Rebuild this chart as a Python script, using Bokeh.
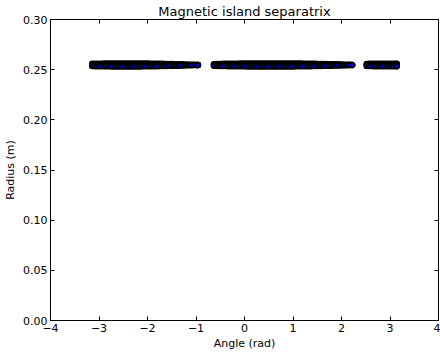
from bokeh.plotting import figure
from bokeh.models import LinearAxis, FixedTicker, ColumnDataSource
from bokeh.embed import file_html
from bokeh.resources import INLINE

# Separatrix points: angle (rad), upper / lower edge radius (m)
angle_seg1 = [-3.14, -3.09, -3.04, -2.99, -2.94, -2.89, -2.84, -2.79, -2.74, -2.69, -2.64, -2.59,
              -2.54, -2.49, -2.44, -2.39, -2.34, -2.29, -2.24, -2.19, -2.14, -2.09, -2.04, -1.99,
              -1.94, -1.89, -1.84, -1.79, -1.74, -1.69, -1.64, -1.59, -1.54, -1.49, -1.44, -1.39,
              -1.34, -1.29, -1.24, -1.19, -1.14, -1.09, -1.04, -0.99, -0.96]
r_up_seg1 = [0.2558, 0.2559, 0.2559, 0.2560, 0.2560, 0.2561, 0.2561, 0.2561, 0.2562, 0.2562, 0.2562, 0.2562,
             0.2562, 0.2562, 0.2562, 0.2562, 0.2562, 0.2562, 0.2562, 0.2562, 0.2562, 0.2561, 0.2561, 0.2561,
             0.2560, 0.2560, 0.2559, 0.2559, 0.2558, 0.2558, 0.2557, 0.2557, 0.2556, 0.2556, 0.2555, 0.2555,
             0.2554, 0.2553, 0.2552, 0.2551, 0.2550, 0.2549, 0.2548, 0.2547, 0.2547]
r_lo_seg1 = [0.2536, 0.2535, 0.2535, 0.2534, 0.2534, 0.2533, 0.2533, 0.2533, 0.2532, 0.2532, 0.2532, 0.2532,
             0.2532, 0.2532, 0.2532, 0.2532, 0.2532, 0.2532, 0.2532, 0.2532, 0.2532, 0.2533, 0.2533, 0.2533,
             0.2534, 0.2534, 0.2535, 0.2535, 0.2536, 0.2536, 0.2537, 0.2537, 0.2538, 0.2538, 0.2539, 0.2539,
             0.2540, 0.2541, 0.2542, 0.2543, 0.2544, 0.2545, 0.2546, 0.2547, 0.2547]

angle_seg2 = [-0.63, -0.58, -0.53, -0.48, -0.43, -0.38, -0.33, -0.28, -0.23, -0.18, -0.13,
              -0.08, -0.03, 0.02, 0.07, 0.12, 0.17, 0.22, 0.27, 0.32, 0.37, 0.42, 0.47,
              0.52, 0.57, 0.62, 0.67, 0.72, 0.77, 0.82, 0.87, 0.92, 0.97, 1.02, 1.07,
              1.12, 1.17, 1.22, 1.27, 1.32, 1.37, 1.42, 1.47, 1.52, 1.57, 1.62, 1.67,
              1.72, 1.77, 1.82, 1.87, 1.92, 1.97, 2.02, 2.07, 2.12, 2.17, 2.22]
r_up_seg2 = [0.2555, 0.2556, 0.2557, 0.2557, 0.2558, 0.2558, 0.2559, 0.2559, 0.2560, 0.2560, 0.2560,
             0.2561, 0.2561, 0.2561, 0.2562, 0.2562, 0.2562, 0.2562, 0.2562, 0.2562, 0.2562, 0.2562, 0.2562,
             0.2562, 0.2562, 0.2562, 0.2562, 0.2562, 0.2562, 0.2562, 0.2562, 0.2562, 0.2562, 0.2562, 0.2561,
             0.2561, 0.2561, 0.2560, 0.2560, 0.2559, 0.2559, 0.2558, 0.2558, 0.2557, 0.2557, 0.2556, 0.2556,
             0.2555, 0.2555, 0.2554, 0.2553, 0.2553, 0.2552, 0.2551, 0.2550, 0.2549, 0.2548, 0.2547]
r_lo_seg2 = [0.2539, 0.2538, 0.2537, 0.2537, 0.2536, 0.2536, 0.2535, 0.2535, 0.2534, 0.2534, 0.2534,
             0.2533, 0.2533, 0.2533, 0.2532, 0.2532, 0.2532, 0.2532, 0.2532, 0.2532, 0.2532, 0.2532, 0.2532,
             0.2532, 0.2532, 0.2532, 0.2532, 0.2532, 0.2532, 0.2532, 0.2532, 0.2532, 0.2532, 0.2532, 0.2533,
             0.2533, 0.2533, 0.2534, 0.2534, 0.2535, 0.2535, 0.2536, 0.2536, 0.2537, 0.2537, 0.2538, 0.2538,
             0.2539, 0.2539, 0.2540, 0.2541, 0.2541, 0.2542, 0.2543, 0.2544, 0.2545, 0.2546, 0.2547]

angle_seg3 = [2.52, 2.57, 2.62, 2.67, 2.72, 2.77, 2.82, 2.87, 2.92, 2.97, 3.02, 3.07, 3.12, 3.14]
r_up_seg3 = [0.2557, 0.2558, 0.2558, 0.2559, 0.2559, 0.2559, 0.2559, 0.2559, 0.2559, 0.2559, 0.2559,
             0.2559, 0.2559, 0.2559]
r_lo_seg3 = [0.2537, 0.2536, 0.2536, 0.2535, 0.2535, 0.2535, 0.2535, 0.2535, 0.2535, 0.2535, 0.2535,
             0.2535, 0.2535, 0.2535]

x_ticks = [-4, -3, -2, -1, 0, 1, 2, 3, 4]
x_tick_labels = ["\u22124", "\u22123", "\u22122", "\u22121", "0", "1", "2", "3", "4"]
y_ticks = [0.0, 0.05, 0.10, 0.15, 0.20, 0.25, 0.30]
y_tick_labels = ["0.00", "0.05", "0.10", "0.15", "0.20", "0.25", "0.30"]

# build point table: for each angle, upper, middle and lower points, ordered by angle
xs, ys = [], []
for ang, up, lo in ((angle_seg1, r_up_seg1, r_lo_seg1),
                    (angle_seg2, r_up_seg2, r_lo_seg2),
                    (angle_seg3, r_up_seg3, r_lo_seg3)):
    for a, u, l in zip(ang, up, lo):
        xs += [a, a, a]
        ys += [u, (u + l) / 2, l]

FONT = "DejaVu Sans"

p = figure(width=440, height=352, output_backend="svg", toolbar_location=None,
           x_range=(-4, 4), y_range=(0, 0.30),
           title="Magnetic island separatrix",
           min_border_left=50, min_border_right=2, min_border_top=0, min_border_bottom=28)

p.title.align = "center"
p.title.text_font = FONT
p.title.text_font_size = "13px"
p.title.text_font_style = "normal"
p.title.text_color = "black"
p.title.standoff = 2

p.xgrid.visible = False
p.ygrid.visible = False
p.outline_line_color = "black"
p.outline_line_width = 1
p.background_fill_color = "white"
p.border_fill_color = "white"

src = ColumnDataSource(dict(x=xs, y=ys))
p.scatter("x", "y", source=src, size=5, fill_color="blue", line_color="black", line_width=1.5)

def style_axis(ax):
    ax.major_tick_in = 4
    ax.major_tick_out = 0
    ax.minor_tick_line_color = None
    ax.axis_line_color = "black"
    ax.major_tick_line_color = "black"
    ax.major_label_text_font = FONT
    ax.major_label_text_font_size = "11px"
    ax.major_label_text_color = "black"
    ax.axis_label_text_font = FONT
    ax.axis_label_text_font_size = "11px"
    ax.axis_label_text_font_style = "normal"
    ax.axis_label_text_color = "black"

xax = p.xaxis[0]
xax.ticker = FixedTicker(ticks=x_ticks)
xax.major_label_overrides = {t: s for t, s in zip(x_ticks, x_tick_labels)}
xax.axis_label = "Angle (rad)"
xax.major_label_standoff = 3
xax.axis_label_standoff = 2
style_axis(xax)

yax = p.yaxis[0]
yax.ticker = FixedTicker(ticks=y_ticks)
yax.major_label_overrides = {t: s for t, s in zip(y_ticks, y_tick_labels)}
yax.axis_label = "Radius (m)"
yax.major_label_standoff = 3
yax.axis_label_standoff = 3
style_axis(yax)

top = LinearAxis(ticker=FixedTicker(ticks=x_ticks))
style_axis(top)
top.major_label_overrides = {t: "" for t in x_ticks}
top.major_label_standoff = 0
p.add_layout(top, "above")
right = LinearAxis(ticker=FixedTicker(ticks=y_ticks))
style_axis(right)
right.major_label_overrides = {t: "" for t in y_ticks}
right.major_label_standoff = 0
p.add_layout(right, "right")

open("out.html", "w").write(file_html(p, INLINE))
